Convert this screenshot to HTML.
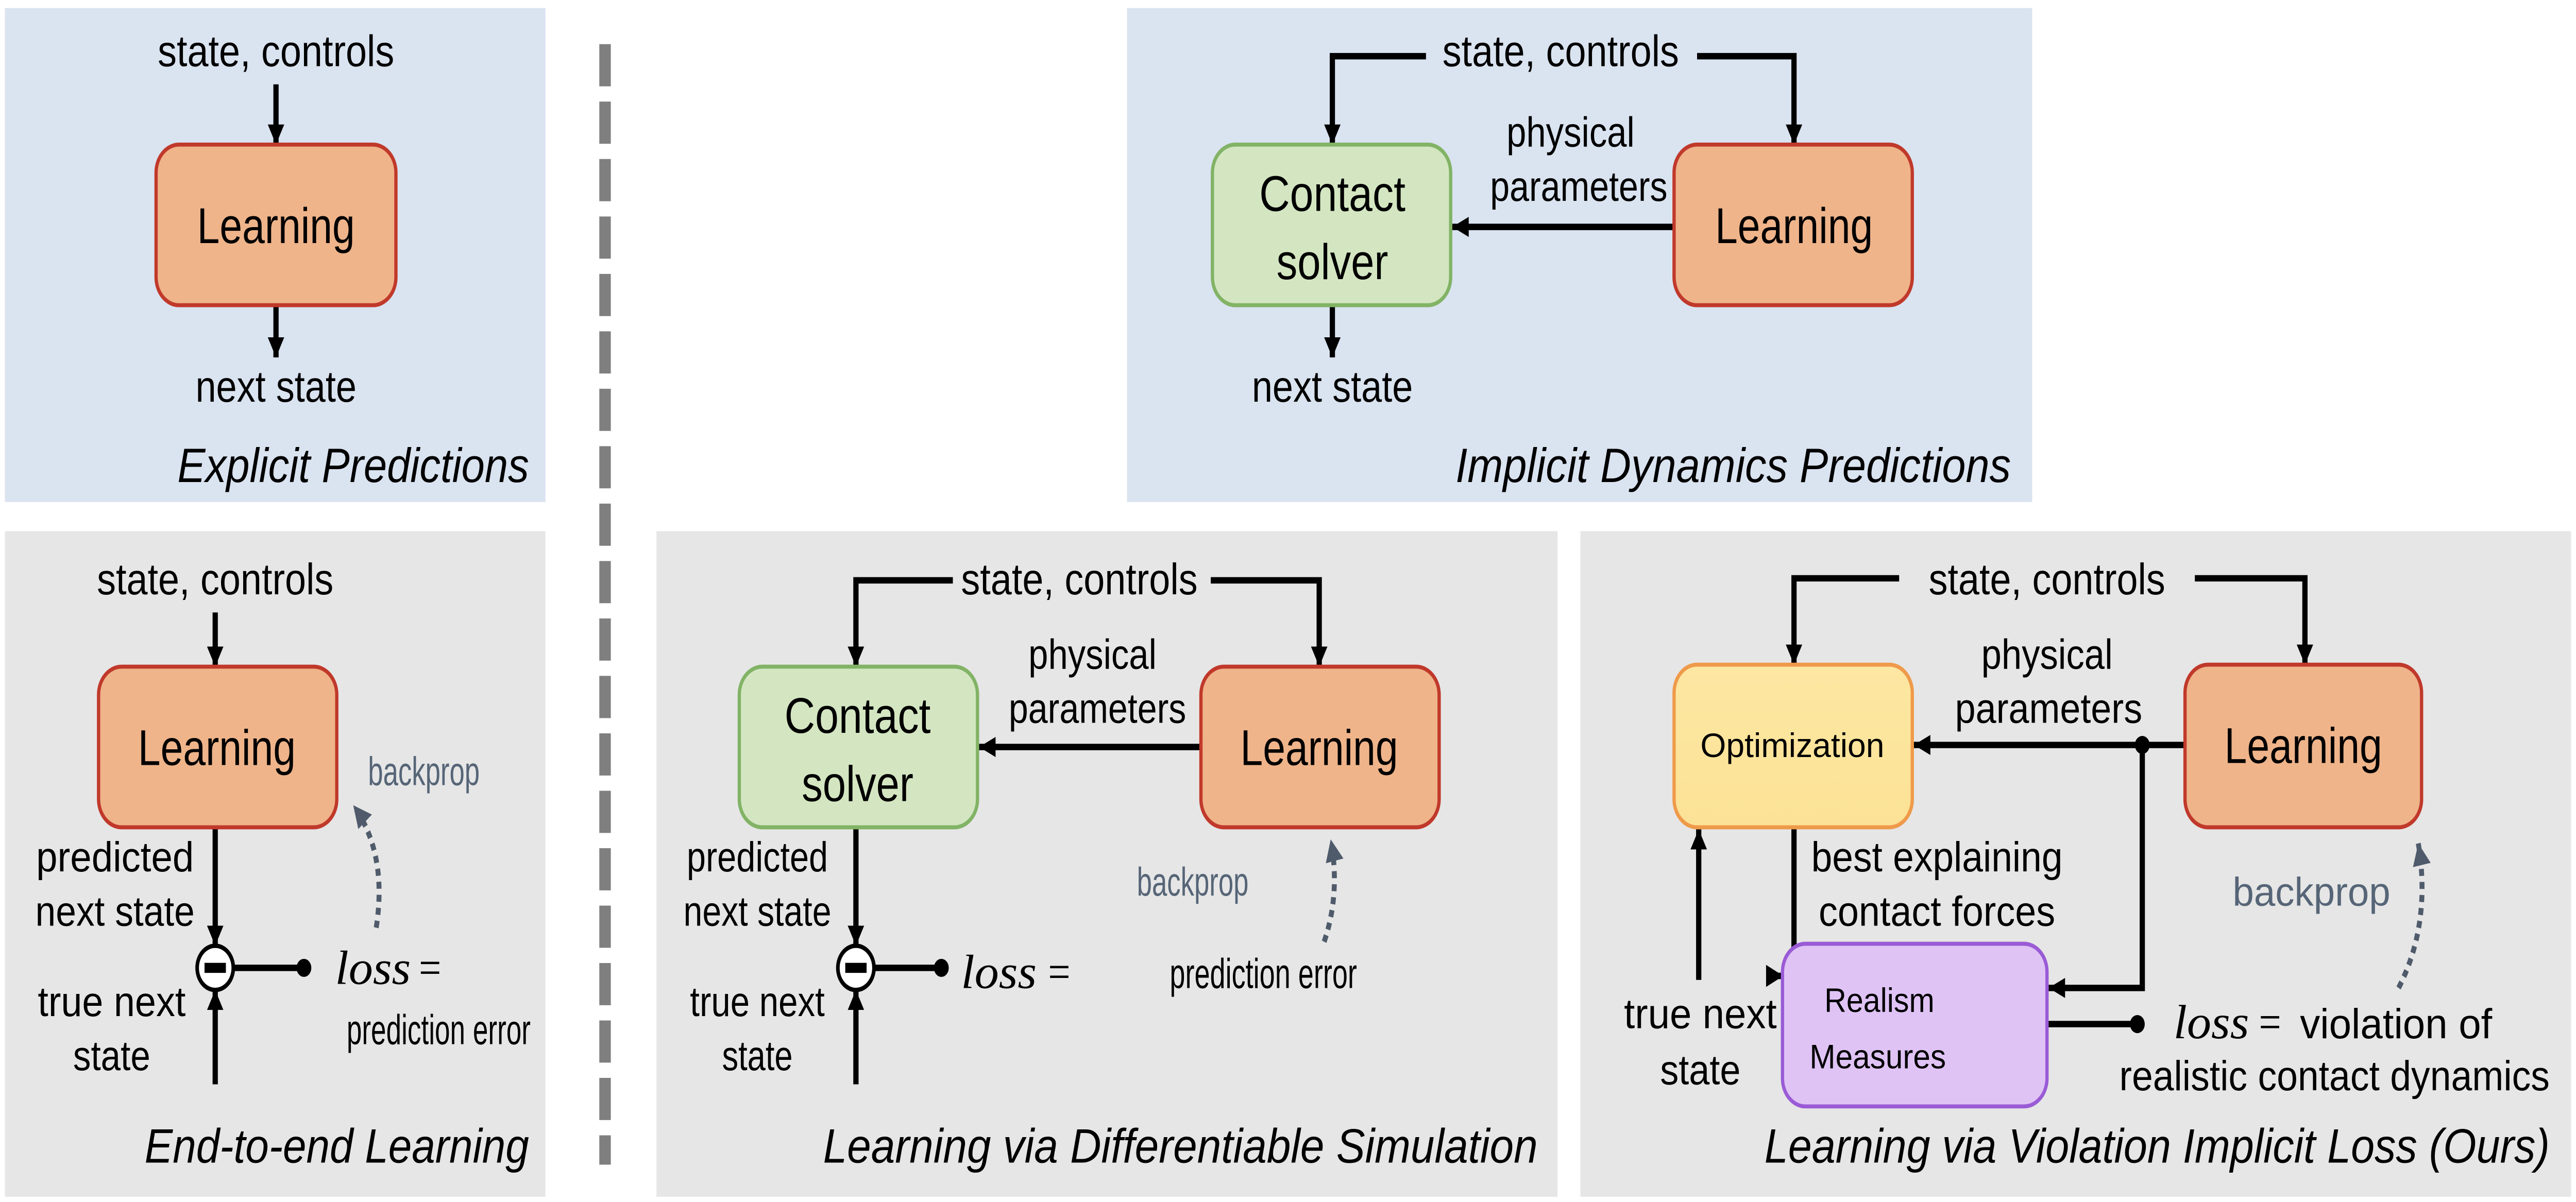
<!DOCTYPE html>
<html><head><meta charset="utf-8"><style>
html,body{margin:0;padding:0;background:#fff;overflow:hidden;width:100%;height:100%;}
svg{display:block;position:fixed;left:0;top:0;width:100vw;height:100vh;}
text{font-family:"Liberation Sans Narrow","Liberation Sans",sans-serif;fill:#000;}
.it{font-style:italic;}
.ser{font-family:"Liberation Serif",serif;}
</style></head><body>
<svg viewBox="0 0 1568 598.6" preserveAspectRatio="none" xmlns="http://www.w3.org/2000/svg">
<defs>
<marker id="ah" viewBox="0 0 10 10" refX="10" refY="5" markerWidth="10" markerHeight="10" markerUnits="userSpaceOnUse" orient="auto"><path d="M0,0 L10,5 L0,10 z" fill="#000"/></marker>
<marker id="ahg" viewBox="0 0 10 10" refX="10" refY="5" markerWidth="11" markerHeight="11" markerUnits="userSpaceOnUse" orient="auto"><path d="M0,0 L10,5 L0,10 z" fill="#4f5b6b"/></marker>
<linearGradient id="yg" x1="0" y1="0" x2="0" y2="1"><stop offset="0" stop-color="#fde7a2"/><stop offset="1" stop-color="#fbe296"/></linearGradient>
</defs>
<rect width="1568" height="598.6" fill="#fff"/>
<rect x="3" y="4" width="329" height="246" fill="#dae3f0"/>
<rect x="686" y="4" width="551" height="246" fill="#dae3f0"/>
<rect x="3" y="264.5" width="329" height="331.5" fill="#e6e6e6"/>
<rect x="399.6" y="264.5" width="548.5" height="331.5" fill="#e6e6e6"/>
<rect x="962" y="264.5" width="603" height="331.5" fill="#e6e6e6"/>
<line x1="368.3" y1="22" x2="368.3" y2="580" stroke="#7f7f7f" stroke-width="7" stroke-dasharray="21 7.6"/>

<g stroke="#000" stroke-width="3.2" fill="none">
<line x1="168" y1="42" x2="168" y2="72" marker-end="url(#ah)"/>
<line x1="168" y1="152" x2="168" y2="178" marker-end="url(#ah)"/>
<polyline points="868,28 811,28 811,72" marker-end="url(#ah)"/>
<polyline points="1033,28 1092,28 1092,72" marker-end="url(#ah)"/>
<line x1="1019" y1="113" x2="884" y2="113" marker-end="url(#ah)"/>
<line x1="811" y1="152" x2="811" y2="178" marker-end="url(#ah)"/>
<line x1="131" y1="305" x2="131" y2="332" marker-end="url(#ah)"/>
<line x1="131" y1="412" x2="131" y2="471" marker-end="url(#ah)"/>
<line x1="131" y1="540" x2="131" y2="493" marker-end="url(#ah)"/>
<line x1="142" y1="482" x2="185" y2="482"/>
<polyline points="580,289 521,289 521,332" marker-end="url(#ah)"/>
<polyline points="737,289 803,289 803,332" marker-end="url(#ah)"/>
<line x1="731" y1="372" x2="596" y2="372" marker-end="url(#ah)"/>
<line x1="521" y1="412" x2="521" y2="471" marker-end="url(#ah)"/>
<line x1="521" y1="540" x2="521" y2="493" marker-end="url(#ah)"/>
<line x1="532" y1="482" x2="572" y2="482"/>
<polyline points="1156,288 1092,288 1092,331" marker-end="url(#ah)"/>
<polyline points="1336,288 1403,288 1403,331" marker-end="url(#ah)"/>
<line x1="1330" y1="371" x2="1165" y2="371" marker-end="url(#ah)"/>
<polyline points="1304,371 1304,492 1247,492" marker-end="url(#ah)"/>
<polyline points="1092,412 1092,486 1076,486"/>
<line x1="1034" y1="488" x2="1034" y2="413" marker-end="url(#ah)"/>
<line x1="1104" y1="510" x2="1085.5" y2="510" marker-end="url(#ah)"/>
<line x1="1246" y1="510" x2="1300" y2="510"/>
</g>
<path d="M1075,480.5 L1085.5,486 L1075,491.5 z" fill="#000"/>

<circle cx="185" cy="482" r="4.5" fill="#000"/>
<circle cx="573" cy="482" r="4.5" fill="#000"/>
<circle cx="1304" cy="371" r="4.5" fill="#000"/>
<circle cx="1301" cy="510" r="4.5" fill="#000"/>
<circle cx="131" cy="482" r="11" fill="#fff" stroke="#000" stroke-width="2.2"/>
<rect x="124.5" y="479.5" width="13" height="5" fill="#000"/>
<circle cx="521" cy="482" r="11" fill="#fff" stroke="#000" stroke-width="2.2"/>
<rect x="514.5" y="479.5" width="13" height="5" fill="#000"/>

<rect x="95" y="72" width="146" height="80" rx="14" fill="#efb48a" stroke="#c0392b" stroke-width="2"/>
<rect x="738" y="72" width="145" height="80" rx="14" fill="#d3e6c1" stroke="#82b366" stroke-width="2"/>
<rect x="1019" y="72" width="145" height="80" rx="14" fill="#efb48a" stroke="#c0392b" stroke-width="2"/>
<rect x="60" y="332" width="145" height="80" rx="14" fill="#efb48a" stroke="#c0392b" stroke-width="2"/>
<rect x="450" y="332" width="145" height="80" rx="14" fill="#d3e6c1" stroke="#82b366" stroke-width="2"/>
<rect x="731" y="332" width="145" height="80" rx="14" fill="#efb48a" stroke="#c0392b" stroke-width="2"/>
<rect x="1019" y="331" width="145" height="81" rx="14" fill="url(#yg)" stroke="#ef9a4a" stroke-width="2"/>
<rect x="1330" y="331" width="144" height="81" rx="14" fill="#efb48a" stroke="#c0392b" stroke-width="2"/>
<rect x="1085" y="470" width="161" height="81" rx="14" fill="#dfc3f5" stroke="#9a5bd6" stroke-width="2"/>

<g fill="none" stroke="#4f5b6b" stroke-width="3" stroke-dasharray="3.5 3">
<path d="M229,462 Q236,425 215,401" marker-end="url(#ahg)"/>
<path d="M806,469 Q816,445 810,418" marker-end="url(#ahg)"/>
<path d="M1460,492 Q1480,460 1472,420" marker-end="url(#ahg)"/>
</g>

<g font-size="22">
<text x="168" y="33" text-anchor="middle" textLength="144" lengthAdjust="spacingAndGlyphs">state, controls</text>
<text x="168" y="200" text-anchor="middle" textLength="98" lengthAdjust="spacingAndGlyphs">next state</text>
<text x="950" y="33" text-anchor="middle" textLength="144" lengthAdjust="spacingAndGlyphs">state, controls</text>
<text x="811" y="200" text-anchor="middle" textLength="98" lengthAdjust="spacingAndGlyphs">next state</text>
<text x="131" y="296" text-anchor="middle" textLength="144" lengthAdjust="spacingAndGlyphs">state, controls</text>
<text x="657" y="296" text-anchor="middle" textLength="144" lengthAdjust="spacingAndGlyphs">state, controls</text>
<text x="1246" y="296" text-anchor="middle" textLength="144" lengthAdjust="spacingAndGlyphs">state, controls</text>
</g>
<g font-size="21">
<text x="956" y="73" text-anchor="middle" textLength="78" lengthAdjust="spacingAndGlyphs">physical</text>
<text x="961" y="100" text-anchor="middle" textLength="108" lengthAdjust="spacingAndGlyphs">parameters</text>
<text x="665" y="333" text-anchor="middle" textLength="78" lengthAdjust="spacingAndGlyphs">physical</text>
<text x="668" y="360" text-anchor="middle" textLength="108" lengthAdjust="spacingAndGlyphs">parameters</text>
<text x="1246" y="333" text-anchor="middle" textLength="80" lengthAdjust="spacingAndGlyphs">physical</text>
<text x="1247" y="360" text-anchor="middle" textLength="114" lengthAdjust="spacingAndGlyphs">parameters</text>
<text x="70" y="434" text-anchor="middle" textLength="96" lengthAdjust="spacingAndGlyphs">predicted</text>
<text x="70" y="461" text-anchor="middle" textLength="97" lengthAdjust="spacingAndGlyphs">next state</text>
<text x="68" y="506" text-anchor="middle" textLength="90" lengthAdjust="spacingAndGlyphs">true next</text>
<text x="68" y="533" text-anchor="middle" textLength="47" lengthAdjust="spacingAndGlyphs">state</text>
<text x="267" y="520" text-anchor="middle" textLength="112" lengthAdjust="spacingAndGlyphs">prediction error</text>
<text x="461" y="434" text-anchor="middle" textLength="86" lengthAdjust="spacingAndGlyphs">predicted</text>
<text x="461" y="461" text-anchor="middle" textLength="90" lengthAdjust="spacingAndGlyphs">next state</text>
<text x="461" y="506" text-anchor="middle" textLength="82" lengthAdjust="spacingAndGlyphs">true next</text>
<text x="461" y="533" text-anchor="middle" textLength="43" lengthAdjust="spacingAndGlyphs">state</text>
<text x="712" y="492" textLength="114" lengthAdjust="spacingAndGlyphs">prediction error</text>
<text x="1179" y="434" text-anchor="middle" textLength="153" lengthAdjust="spacingAndGlyphs">best explaining</text>
<text x="1179" y="461" text-anchor="middle" textLength="144" lengthAdjust="spacingAndGlyphs">contact forces</text>
<text x="1035" y="512" text-anchor="middle" textLength="93" lengthAdjust="spacingAndGlyphs">true next</text>
<text x="1035" y="540" text-anchor="middle" textLength="49" lengthAdjust="spacingAndGlyphs">state</text>
<text x="1400" y="517" textLength="117" lengthAdjust="spacingAndGlyphs">violation of</text>
<text x="1290" y="543" textLength="262" lengthAdjust="spacingAndGlyphs">realistic contact dynamics</text>
</g>
<g font-size="24">
<text x="204" y="490" class="ser it" textLength="46" lengthAdjust="spacingAndGlyphs">loss</text>
<text x="255" y="490" class="ser">=</text>
<text x="585" y="492" class="ser it" textLength="46" lengthAdjust="spacingAndGlyphs">loss</text>
<text x="638" y="492" class="ser">=</text>
<text x="1323" y="517" class="ser it" textLength="46" lengthAdjust="spacingAndGlyphs">loss</text>
<text x="1375" y="517" class="ser">=</text>
</g>
<g font-size="20">
<text x="224" y="391" textLength="68" lengthAdjust="spacingAndGlyphs" style="fill:#566577">backprop</text>
<text x="692" y="446" textLength="68" lengthAdjust="spacingAndGlyphs" style="fill:#566577">backprop</text>
<text x="1359" y="451" textLength="96" lengthAdjust="spacingAndGlyphs" style="fill:#566577">backprop</text>
</g>
<g font-size="25">
<text x="168" y="121" text-anchor="middle" textLength="96" lengthAdjust="spacingAndGlyphs">Learning</text>
<text x="1092" y="121" text-anchor="middle" textLength="96" lengthAdjust="spacingAndGlyphs">Learning</text>
<text x="132" y="381" text-anchor="middle" textLength="96" lengthAdjust="spacingAndGlyphs">Learning</text>
<text x="803" y="381" text-anchor="middle" textLength="96" lengthAdjust="spacingAndGlyphs">Learning</text>
<text x="1402" y="380" text-anchor="middle" textLength="96" lengthAdjust="spacingAndGlyphs">Learning</text>
<text x="811" y="105" text-anchor="middle" textLength="89" lengthAdjust="spacingAndGlyphs">Contact</text>
<text x="811" y="139" text-anchor="middle" textLength="68" lengthAdjust="spacingAndGlyphs">solver</text>
<text x="522" y="365" text-anchor="middle" textLength="89" lengthAdjust="spacingAndGlyphs">Contact</text>
<text x="522" y="399" text-anchor="middle" textLength="68" lengthAdjust="spacingAndGlyphs">solver</text>
</g>
<g font-size="17">
<text x="1091" y="377" text-anchor="middle" textLength="112" lengthAdjust="spacingAndGlyphs">Optimization</text>
<text x="1144" y="504" text-anchor="middle" textLength="67" lengthAdjust="spacingAndGlyphs">Realism</text>
<text x="1143" y="532" text-anchor="middle" textLength="83" lengthAdjust="spacingAndGlyphs">Measures</text>
</g>
<g font-size="24">
<text x="322" y="240" text-anchor="end" class="it" textLength="214" lengthAdjust="spacingAndGlyphs">Explicit Predictions</text>
<text x="1224" y="240" text-anchor="end" class="it" textLength="338" lengthAdjust="spacingAndGlyphs">Implicit Dynamics Predictions</text>
<text x="322" y="579" text-anchor="end" class="it" textLength="234" lengthAdjust="spacingAndGlyphs">End-to-end Learning</text>
<text x="936" y="579" text-anchor="end" class="it" textLength="435" lengthAdjust="spacingAndGlyphs">Learning via Differentiable Simulation</text>
<text x="1552" y="579" text-anchor="end" class="it" textLength="478" lengthAdjust="spacingAndGlyphs">Learning via Violation Implicit Loss (Ours)</text>
</g>
</svg>
</body></html>
